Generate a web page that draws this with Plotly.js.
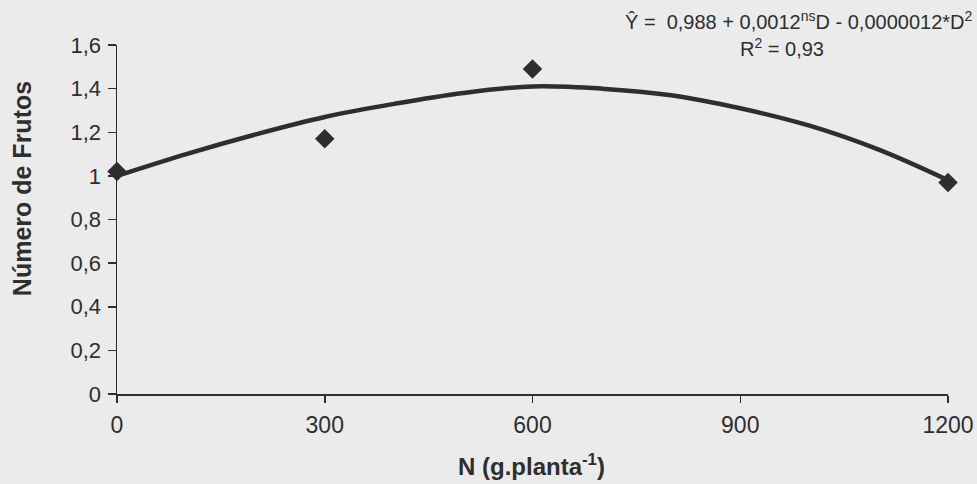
<!DOCTYPE html>
<html>
<head>
<meta charset="utf-8">
<script src="https://cdn.plot.ly/plotly-3.0.1.min.js"></script>
<style>html,body{margin:0;padding:0;background:#ebebeb;}#chart{width:977px;height:484px;}</style>
</head>
<body>
<div id="chart"></div>
<script>
// Observed data (diamonds)
const doseObs = [0, 300, 600, 1200];
const frutosObs = [1.02, 1.17, 1.49, 0.97];

// Fitted curve
const doseFit = [0, 100, 200, 300, 400, 500, 600, 700, 800, 900, 1000, 1100, 1200];
const frutosFit = [1.00, 1.10, 1.19, 1.27, 1.33, 1.38, 1.41, 1.40, 1.37, 1.31, 1.23, 1.12, 0.98];

// Axis ticks
const xTickVals = [0, 300, 600, 900, 1200];
const xTickText = ["0", "300", "600", "900", "1200"];
const yTickVals = [0, 0.2, 0.4, 0.6, 0.8, 1, 1.2, 1.4, 1.6];
const yTickText = ["0", "0,2", "0,4", "0,6", "0,8", "1", "1,2", "1,4", "1,6"];

const ink = "#2e2e2e";
const font = "Liberation Sans, Arial, sans-serif";

const traces = [
  {
    x: doseFit, y: frutosFit, type: "scatter", mode: "lines",
    line: {color: ink, width: 4.5, shape: "spline", smoothing: 1},
    cliponaxis: false, hoverinfo: "skip"
  },
  {
    x: doseObs, y: frutosObs, type: "scatter", mode: "markers",
    marker: {symbol: "diamond", size: 15, color: ink},
    cliponaxis: false
  }
];

const layout = {
  width: 977, height: 484,
  paper_bgcolor: "#ebebeb", plot_bgcolor: "#ebebeb",
  margin: {l: 117, r: 29, t: 45, b: 90},
  showlegend: false,
  separators: ",.",
  font: {family: font, color: ink},
  xaxis: {
    range: [0, 1200], tickvals: xTickVals, ticktext: xTickText,
    showgrid: false, zeroline: false, showline: true, linecolor: ink, linewidth: 1.5,
    ticks: "outside", ticklen: 7, tickcolor: ink, tickwidth: 1.5,
    ticklabelstandoff: 3,
    tickfont: {size: 23, color: ink, family: font}
  },
  yaxis: {
    range: [0, 1.6], tickvals: yTickVals, ticktext: yTickText,
    showgrid: false, zeroline: false, showline: true, linecolor: ink, linewidth: 1.5,
    ticks: "outside", ticklen: 8, tickcolor: ink, tickwidth: 1.5,
    ticklabelstandoff: 2,
    tickfont: {size: 22, color: ink, family: font}
  },
  annotations: [
    {
      text: "<b>Número de Frutos</b>", textangle: -90,
      xref: "paper", yref: "paper", x: -0.1143, y: 0.587,
      xanchor: "center", yanchor: "middle", showarrow: false,
      font: {size: 25, color: ink, family: font}
    },
    {
      text: "<b>N (g.planta<sup>-1</sup>)</b>",
      xref: "paper", yref: "paper", x: 0.499, y: -0.2034,
      xanchor: "center", yanchor: "middle", showarrow: false,
      font: {size: 24, color: ink, family: font}
    },
    {
      text: "Ŷ =  0,988 + 0,0012<sup>ns</sup>D - 0,0000012*D<sup>2</sup>",
      xref: "paper", yref: "paper", x: 1.031, y: 1.069,
      xanchor: "right", yanchor: "middle", showarrow: false,
      font: {size: 20, color: ink, family: font}
    },
    {
      text: "R<sup>2</sup> = 0,93",
      xref: "paper", yref: "paper", x: 0.800, y: 0.994,
      xanchor: "center", yanchor: "middle", showarrow: false,
      font: {size: 20, color: ink, family: font}
    }
  ]
};

Plotly.newPlot("chart", traces, layout, {displayModeBar: false, staticPlot: true});
</script>
</body>
</html>
